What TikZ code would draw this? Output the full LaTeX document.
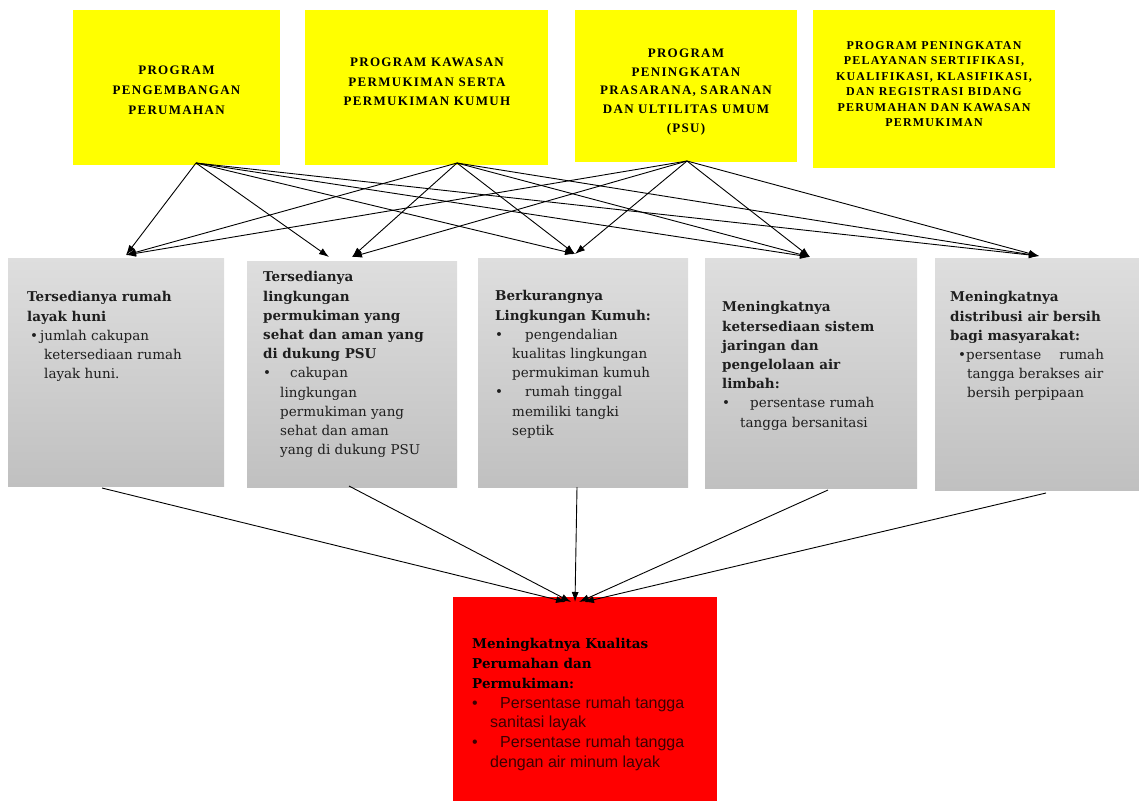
\documentclass[tikz,border=0pt]{standalone}
\usepackage{fontspec}
\setmainfont{DejaVu Serif}
\newfontfamily\capsfont[LetterSpace=10]{Liberation Serif}
\newfontfamily\redsans{Liberation Sans}
\usetikzlibrary{arrows.meta}
\definecolor{ylw}{RGB}{255,255,0}
\definecolor{rd}{RGB}{255,0,0}
\definecolor{gtop}{RGB}{222,222,222}
\definecolor{gbot}{RGB}{192,192,192}
\definecolor{dkred}{RGB}{60,0,0}
\definecolor{gtxt}{RGB}{30,30,30}
\begin{document}
\begin{tikzpicture}[x=1pt,y=-1pt,
  ybox/.style={fill=ylw, inner sep=0pt, anchor=north west},
  gbox/.style={top color=gtop, bottom color=gbot, inner sep=0pt, anchor=north west},
  rbox/.style={fill=rd, inner sep=0pt, anchor=north west},
  ytext/.style={align=center, inner sep=0pt, anchor=center},
  gtext/.style={align=left, inner sep=0pt, anchor=north west, text=gtxt, font=\fontsize{13.5}{19.2}\selectfont},
  conn/.style={-{Latex[length=10pt,width=7pt]}, line width=0.9pt, black},
]
\useasboundingbox (0,0) rectangle (1139,801);

% yellow program boxes
\node[ybox, minimum width=207pt, minimum height=155pt] (y1) at (73,10) {};
\node[ybox, minimum width=243pt, minimum height=155pt] (y2) at (305,10) {};
\node[ybox, minimum width=222pt, minimum height=152pt] (y3) at (575,10) {};
\node[ybox, minimum width=242pt, minimum height=158pt] (y4) at (813,10) {};

% gray outcome boxes
\node[gbox, minimum width=216pt, minimum height=228pt] (g1) at (8,258) {};
\node[gbox, minimum width=210pt, minimum height=226pt] (g2) at (247,261) {};
\node[gbox, minimum width=210pt, minimum height=229pt] (g3) at (478,258) {};
\node[gbox, minimum width=212pt, minimum height=230pt] (g4) at (705,258) {};
\node[gbox, minimum width=204pt, minimum height=232pt] (g5) at (935,258) {};

% red goal box
\node[rbox, minimum width=264pt, minimum height=204pt] (r) at (453,597) {};

% connector end points
\coordinate (sA) at (196,163);
\coordinate (sB) at (457,163);
\coordinate (sC) at (687,161);
\coordinate (t1) at (126,255);
\coordinate (t2a) at (329,257);
\coordinate (t2b) at (352,257);
\coordinate (t3) at (575,254);
\coordinate (t4) at (810,257);
\coordinate (t5) at (1039,256);
\coordinate (b1) at (102,488);
\coordinate (b2) at (349,486);
\coordinate (b3) at (577,487);
\coordinate (b4) at (828,490);
\coordinate (b5) at (1046,493);
\coordinate (r1) at (566,602);
\coordinate (r2) at (571,602);
\coordinate (r3) at (575,602);
\coordinate (r4) at (579,602);
\coordinate (r5) at (584,602);

% top connectors
\draw[conn] (sA) -- (t1);
\draw[conn] (sA) -- (t2a);
\draw[conn] (sA) -- (t3);
\draw[conn] (sA) -- (t4);
\draw[conn] (sA) -- (t5);
\draw[conn] (sB) -- (t1);
\draw[conn] (sB) -- (t2b);
\draw[conn] (sB) -- (t3);
\draw[conn] (sB) -- (t4);
\draw[conn] (sB) -- (t5);
\draw[conn] (sC) -- (t1);
\draw[conn] (sC) -- (t2b);
\draw[conn] (sC) -- (t3);
\draw[conn] (sC) -- (t4);
\draw[conn] (sC) -- (t5);

% bottom connectors
\draw[conn] (b1) -- (r1);
\draw[conn] (b2) -- (r2);
\draw[conn] (b3) -- (r3);
\draw[conn] (b4) -- (r4);
\draw[conn] (b5) -- (r5);

% yellow texts
\node[ytext, font=\capsfont\bfseries\fontsize{13}{20}\selectfont] (y1t) at (176.5,90)
  {PROGRAM\\PENGEMBANGAN\\PERUMAHAN};
\node[ytext, font=\capsfont\bfseries\fontsize{13}{19.5}\selectfont] (y2t) at (427,82)
  {PROGRAM KAWASAN\\PERMUKIMAN SERTA\\PERMUKIMAN KUMUH};
\node[ytext, font=\capsfont\bfseries\fontsize{13}{18.7}\selectfont] (y3t) at (686,92)
  {PROGRAM\\PENINGKATAN\\PRASARANA, SARANAN\\DAN ULTILITAS UMUM\\(PSU)};
\node[ytext, font=\capsfont\bfseries\fontsize{12}{15.4}\selectfont] (y4t) at (934,84)
  {PROGRAM PENINGKATAN\\PELAYANAN SERTIFIKASI,\\KUALIFIKASI, KLASIFIKASI,\\DAN REGISTRASI BIDANG\\PERUMAHAN DAN KAWASAN\\PERMUKIMAN};

% gray texts
\node[gtext] (g1t) at (27,291.5) {%
  {\bfseries Tersedianya rumah}\\
  {\bfseries layak huni}\\
  \hspace*{3pt}\makebox[10pt][l]{\textbullet}jumlah cakupan\\
  \hspace*{17pt}ketersediaan rumah\\
  \hspace*{17pt}layak huni.};
\node[gtext] (g2t) at (263,271.5) {%
  {\bfseries Tersedianya}\\
  {\bfseries lingkungan}\\
  {\bfseries permukiman yang}\\
  {\bfseries sehat dan aman yang}\\
  {\bfseries di dukung PSU}\\
  \makebox[27pt][l]{\textbullet}cakupan\\
  \hspace*{17pt}lingkungan\\
  \hspace*{17pt}permukiman yang\\
  \hspace*{17pt}sehat dan aman\\
  \hspace*{17pt}yang di dukung PSU};
\node[gtext] (g3t) at (495,290.5) {%
  {\bfseries Berkurangnya}\\
  {\bfseries Lingkungan Kumuh:}\\
  \makebox[30pt][l]{\textbullet}pengendalian\\
  \hspace*{17pt}kualitas lingkungan\\
  \hspace*{17pt}permukiman kumuh\\
  \makebox[30pt][l]{\textbullet}rumah tinggal\\
  \hspace*{17pt}memiliki tangki\\
  \hspace*{17pt}septik};
\node[gtext] (g4t) at (722,301.5) {%
  {\bfseries Meningkatnya}\\
  {\bfseries ketersediaan sistem}\\
  {\bfseries jaringan dan}\\
  {\bfseries pengelolaan air}\\
  {\bfseries limbah:}\\
  \makebox[28pt][l]{\textbullet}persentase rumah\\
  \hspace*{18pt}tangga bersanitasi};
\node[gtext] (g5t) at (950,291.5) {%
  {\bfseries Meningkatnya}\\
  {\bfseries distribusi air bersih}\\
  {\bfseries bagi masyarakat:}\\
  \hspace*{8pt}\makebox[8pt][l]{\textbullet}persentase\hspace{18pt}rumah\\
  \hspace*{17pt}tangga berakses air\\
  \hspace*{17pt}bersih perpipaan};

% red text
\node[gtext, text=black, font=\fontsize{13.5}{19.7}\selectfont] (rt) at (472,638.5) {%
  {\bfseries Meningkatnya Kualitas}\\
  {\bfseries Perumahan dan}\\
  {\bfseries Permukiman:}\\
  {\redsans\fontsize{16}{19.7}\selectfont\color{dkred}\makebox[28pt][l]{\textbullet}Persentase rumah tangga}\\
  {\redsans\fontsize{16}{19.7}\selectfont\color{dkred}\hspace*{18pt}sanitasi layak}\\
  {\redsans\fontsize{16}{19.7}\selectfont\color{dkred}\makebox[28pt][l]{\textbullet}Persentase rumah tangga}\\
  {\redsans\fontsize{16}{19.7}\selectfont\color{dkred}\hspace*{18pt}dengan air minum layak}};
\end{tikzpicture}
\end{document}
